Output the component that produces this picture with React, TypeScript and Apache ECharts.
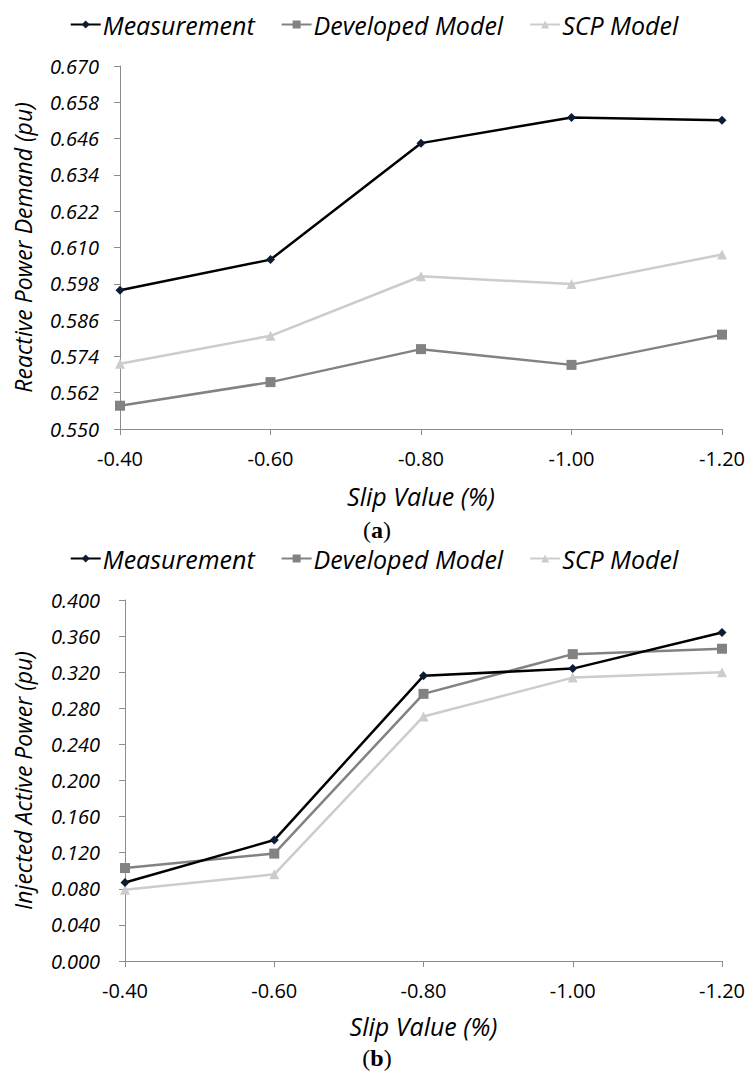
import React, { useEffect, useRef } from "react";
import * as echarts from "echarts";

const slipCategories = ["-0.40", "-0.60", "-0.80", "-1.00", "-1.20"];
const seriesNames = ["Measurement", "Developed Model", "SCP Model"];

const reactiveMeasurement = [0.5959, 0.606, 0.6445, 0.653, 0.6521];
const reactiveDeveloped = [0.5577, 0.5655, 0.5764, 0.5712, 0.5812];
const reactiveSCP = [0.5716, 0.5808, 0.6005, 0.5979, 0.6077];

const activeMeasurement = [0.087, 0.134, 0.316, 0.324, 0.364];
const activeDeveloped = [0.103, 0.119, 0.296, 0.34, 0.346];
const activeSCP = [0.079, 0.096, 0.271, 0.314, 0.32];

const FONT = "'Open Sans', sans-serif";
const SERIF = "'Liberation Serif', serif";
const AXIS_COLOR = "#8c8c8c";

const lineStyles = [
  { color: "#000000", symbol: "diamond", symbolSize: 9, itemColor: "#0d1b33" },
  { color: "#828282", symbol: "rect", symbolSize: 10, itemColor: "#828282" },
  { color: "#cccccc", symbol: "triangle", symbolSize: 10, itemColor: "#cccccc" },
];

export default function App() {
  const ref = useRef<HTMLDivElement>(null);
  useEffect(() => {
    if (!ref.current) return;
    const chart = echarts.init(ref.current, undefined, { renderer: "svg" });

    const xAxisBase = (gridIndex: number, nameGap: number) => ({
      type: "category",
      gridIndex,
      data: slipCategories,
      boundaryGap: false,
      name: "Slip Value (%)",
      nameLocation: "middle",
      nameGap,
      nameTextStyle: { fontFamily: FONT, fontStyle: "italic", fontSize: 25, color: "#000" },
      axisLine: { lineStyle: { color: AXIS_COLOR, width: 1 } },
      axisTick: { show: true, length: 6, inside: false, lineStyle: { color: AXIS_COLOR } },
      axisLabel: { fontFamily: FONT, fontSize: 20, color: "#000", margin: 19 },
      splitLine: { show: false },
    });

    const yAxisBase = (
      gridIndex: number,
      name: string,
      min: number,
      max: number,
      interval: number,
      labelMargin: number,
      nameGap: number
    ) => ({
      type: "value",
      gridIndex,
      min,
      max,
      interval,
      name,
      nameLocation: "middle",
      nameGap,
      nameTextStyle: { fontFamily: FONT, fontStyle: "italic", fontSize: 23, color: "#000" },
      axisLine: { show: true, lineStyle: { color: AXIS_COLOR, width: 1 } },
      axisTick: { show: true, length: 6, lineStyle: { color: AXIS_COLOR } },
      axisLabel: {
        fontFamily: FONT,
        fontStyle: "italic",
        fontSize: 20,
        color: "#000",
        margin: labelMargin,
        formatter: (v: number) => v.toFixed(3),
      },
      splitLine: { show: false },
    });

    const makeSeries = (idx: number, data: number[], axisIdx: number) => ({
      type: "line",
      name: seriesNames[idx],
      xAxisIndex: axisIdx,
      yAxisIndex: axisIdx,
      data,
      symbol: lineStyles[idx].symbol,
      symbolSize: lineStyles[idx].symbolSize,
      showAllSymbol: true,
      lineStyle: { color: lineStyles[idx].color, width: 2.5 },
      itemStyle: { color: lineStyles[idx].itemColor },
      z: 10 - idx,
    });

    const legendBase = (top: number) => ({
      top,
      left: "center",
      itemWidth: 30,
      itemHeight: 10,
      itemGap: 26,
      data: seriesNames,
      textStyle: { fontFamily: FONT, fontStyle: "italic", fontSize: 25, color: "#000", padding: [0, 0, 0, -3] },
    });

    const caption = (label: string, top: number) => ({
      type: "text",
      x: 377,
      y: top,
      style: {
        text: "{p|(}{a|" + label + "}{p|)}",
        fontSize: 24,
        fontFamily: SERIF,
        fill: "#000",
        align: "center",
        verticalAlign: "middle",
        rich: {
          p: { fontSize: 24, fontFamily: SERIF, fill: "#000" },
          a: { fontWeight: "bold", fontSize: 24, fontFamily: SERIF, fill: "#000" },
        },
      },
    });

    chart.setOption({
      animation: false,
      backgroundColor: "#ffffff",
      legend: [legendBase(7), legendBase(541)],
      grid: [
        { left: 120, top: 66, width: 602, height: 363 },
        { left: 125, top: 600, width: 597, height: 361 },
      ],
      xAxis: [xAxisBase(0, 54), xAxisBase(1, 52)],
      yAxis: [
        yAxisBase(0, "Reactive Power Demand (pu)", 0.55, 0.67, 0.012, 21, 86),
        yAxisBase(1, "Injected Active Power (pu)", 0, 0.4, 0.04, 25, 91),
      ],
      series: [
        makeSeries(0, reactiveMeasurement, 0),
        makeSeries(1, reactiveDeveloped, 0),
        makeSeries(2, reactiveSCP, 0),
        makeSeries(0, activeMeasurement, 1),
        makeSeries(1, activeDeveloped, 1),
        makeSeries(2, activeSCP, 1),
      ],
      graphic: [caption("a", 530), caption("b", 1058)],
    });
    return () => chart.dispose();
  }, []);
  return <div ref={ref} style={{ position: "fixed", left: 0, top: 0, width: 748, height: 1079, background: "#fff" }} />;
}
